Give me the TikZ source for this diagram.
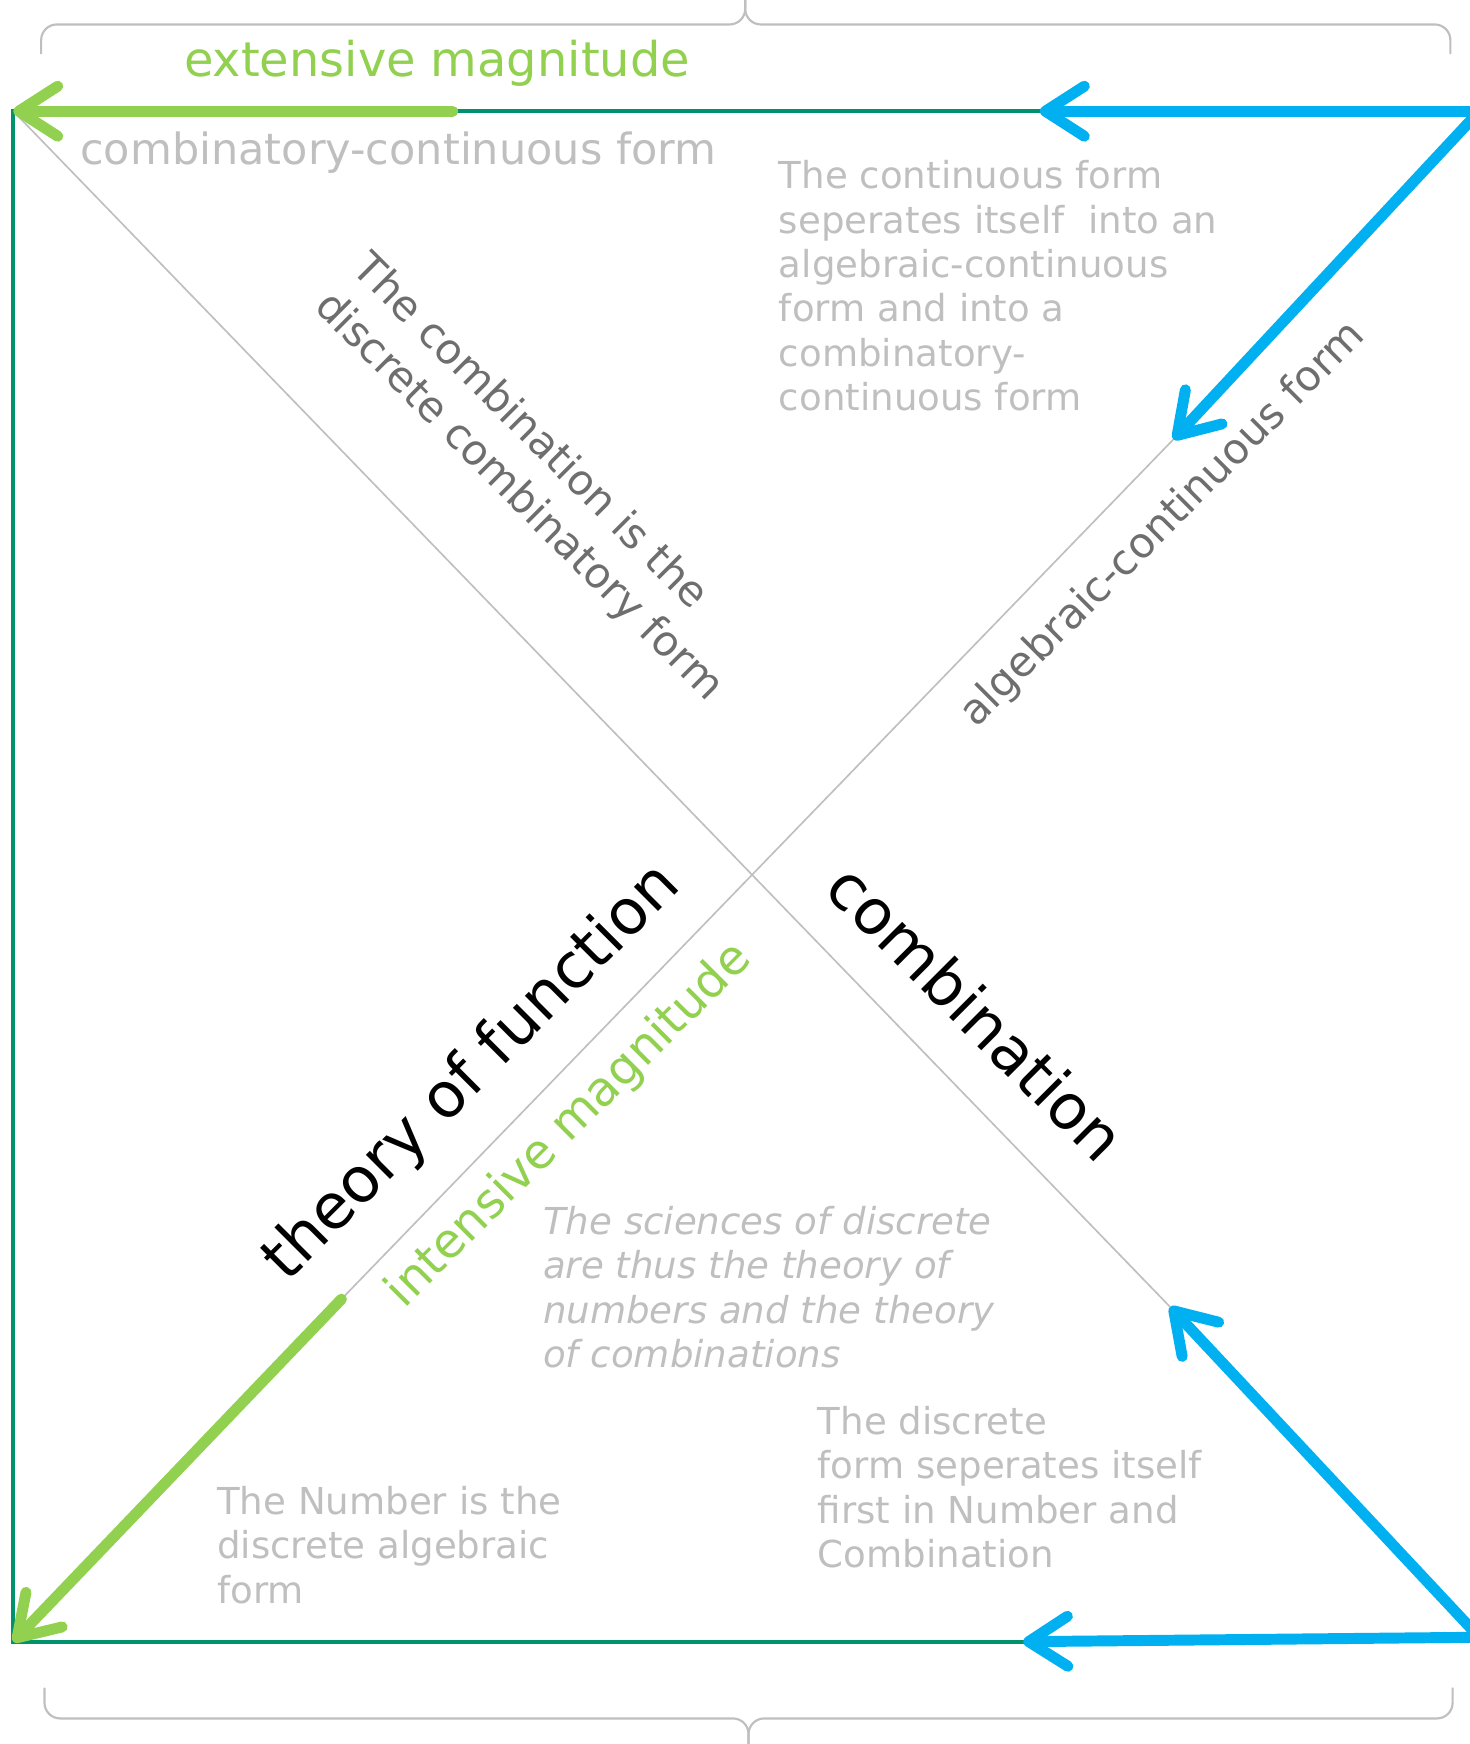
\documentclass[tikz,border=0pt]{standalone}
\usepackage{fontspec}
\setmainfont{DejaVu Sans}
\usepackage{tikz}
\usetikzlibrary{arrows.meta}
\definecolor{lgreen}{HTML}{92D050}
\definecolor{lblue}{HTML}{00B0F0}
\definecolor{fgreen}{RGB}{0,146,108}
\definecolor{lgray}{HTML}{BFBFBF}
\definecolor{dgray}{HTML}{6E6E6E}
\tikzstyle{fat} = [line width=5.6pt, -{Straight Barb[length=0.7cm,width=0.9cm,round]}]
\tikzstyle{rim} = [draw=fgreen, line width=2pt]
\tikzstyle{xline} = [draw=lgray, line width=0.85pt]
\tikzstyle{curly} = [draw=lgray, line width=1.1pt, rounded corners=8pt]
\tikzstyle{note} = [text=lgray, align=left, inner sep=0pt,
    font=\fontsize{19}{22.7}\selectfont]
\tikzstyle{mag} = [text=lgreen, inner sep=0pt, font=\fontsize{24.5}{29}\selectfont]
\tikzstyle{slant} = [text=dgray, align=left, inner sep=0pt,
    font=\fontsize{21.5}{27.4}\selectfont]
\tikzstyle{big} = [text=black, inner sep=0pt, font=\fontsize{32}{38}\selectfont]

\begin{document}
\begin{tikzpicture}[x=0.02cm,y=-0.02cm,line cap=round]
  \useasboundingbox (0,0) rectangle (1321,1568);

  \coordinate (tl) at (12,100);
  \coordinate (bl) at (12,1476);
  \coordinate (tr) at (1330,100);
  \coordinate (br) at (1330,1472);
  \coordinate (tm) at (935,100);
  \coordinate (bm) at (920,1476);
  \coordinate (gt) at (407,100);
  \coordinate (ur) at (1055,395);
  \coordinate (lr) at (1052,1175);
  \coordinate (ll) at (307,1168);

  \draw[curly] (37,48) |- (670,22) -- (670,0);
  \draw[curly] (1304,48) |- (670,22) -- (670,0);
  \draw[curly] (40,1518) |- (673,1545) -- (673,1568);
  \draw[curly] (1306,1518) |- (673,1545) -- (673,1568);

  \draw[xline] (tl) -- (lr);
  \draw[xline] (ur) -- (ll);
  \draw[rim] (tm) -- (tl) -- (bl) -- (bm);

  \draw[fat, lgreen] (gt) -- (tl);
  \draw[fat, lgreen] (ll) -- (bl);
  \draw[fat, lblue] (tr) -- (tm);
  \draw[fat, lblue] (tr) -- (ur);
  \draw[fat, lblue] (br) -- (lr);
  \draw[fat, lblue] (br) -- (bm);

  \node[mag] (ext) at (393,57) {extensive magnitude};
  \node[note, font=\fontsize{22}{26}\selectfont] (cc) at (358,137) {combinatory-continuous form};
  \node[slant, rotate=-45] (cmbf) at (483,430) {The combination is the\\discrete combinatory form};
  \node[slant, rotate=45] (alg) at (1046,472) {algebraic-continuous form};
  \node[big, rotate=45] (tof) at (425,965) {theory of function};
  \node[big, rotate=-45] (cmb) at (878,910) {combination};
  \node[mag, rotate=45] (int) at (512,1012) {intensive magnitude};

  \node[note, anchor=north west] (p1) at (700,144)
    {The continuous form\\seperates itself\ \ into an\\algebraic-continuous\\form and into a\\combinatory-\\continuous form};
  \node[note, anchor=north west, font=\fontsize{19}{22.7}\selectfont\itshape] (p2) at (488,1084)
    {The sciences of discrete\\are thus the theory of\\numbers and the theory\\of combinations};
  \node[note, anchor=north west] (p3) at (735,1264)
    {The discrete\\form seperates itself\\first in Number and\\Combination};
  \node[note, anchor=north west] (p4) at (195,1336)
    {The Number is the\\discrete algebraic\\form};
\end{tikzpicture}
\end{document}
